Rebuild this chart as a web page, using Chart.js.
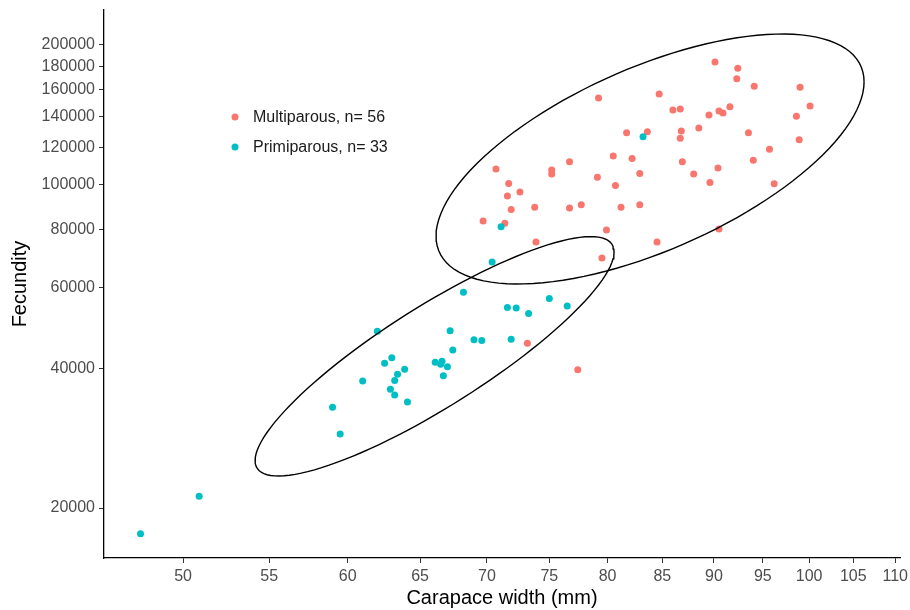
<!DOCTYPE html>
<html lang="en">
<head>
    <meta charset="UTF-8">
    <title>Fecundity vs carapace width</title>
    <script src="https://cdn.jsdelivr.net/npm/chart.js"></script>
    <style>
        body { margin: 0; background: #fff; }
        canvas { display: block; }
    </style>
</head>
<body>
    <canvas id="fecundity-chart" width="910" height="610"></canvas>

    <script>
        // Multiparous females
        const multiWidth = [90.1, 92.4, 92.3, 94.1, 99.0, 84.7, 86.0, 86.7, 89.5, 90.5, 90.9, 91.6, 100.1, 98.6,
            86.8, 86.7, 88.5, 93.5, 98.9, 95.7, 86.9, 90.4, 88.0, 94.0, 89.6, 96.2, 79.2, 81.7, 83.6, 80.5,
            82.2, 82.9, 79.1, 80.7, 76.7, 75.2, 75.2, 70.7, 71.7, 72.6, 71.6, 71.9, 73.8, 76.7, 77.7, 81.2,
            82.9, 69.7, 71.4, 79.9, 73.9, 84.5, 79.5, 73.2, 77.4, 90.5];
        const multiFecundity = [183800, 178100, 169100, 162900, 162100, 156800, 144800, 145500, 141200, 144000,
            142600, 147200, 147700, 140300, 130400, 125800, 132400, 129300, 124900, 119100, 111900, 108500,
            105300, 112700, 101000, 100300, 153700, 129300, 129900, 115200, 113800, 105500, 103600, 99500,
            111900, 107400, 105300, 107900, 100500, 96300, 94400, 88300, 89200, 88900, 90400, 89200, 90400,
            83400, 82400, 79700, 75100, 75100, 69300, 45400, 39800, 80100];

        // Primiparous females
        const primiWidth = [83.2, 71.1, 70.4, 68.2, 75.0, 76.5, 71.6, 72.3, 73.3, 67.2, 69.0, 69.6, 71.9, 67.4,
            66.1, 66.5, 66.6, 67.0, 66.7, 62.0, 63.0, 62.5, 63.9, 63.4, 63.2, 61.0, 62.9, 63.2, 64.1, 59.0,
            59.5, 50.9, 47.7];
        const primiFecundity = [126800, 81000, 68000, 58500, 56700, 54600, 54200, 54100, 52600, 48300, 46200,
            46000, 46300, 43900, 41300, 40900, 41500, 40400, 38600, 48200, 42200, 41100, 39900, 38900, 37700,
            37600, 36100, 35100, 33900, 33000, 28900, 21200, 17600];

        const xTicks = [50, 55, 60, 65, 70, 75, 80, 85, 90, 95, 100, 105, 110];
        const yTicks = [20000, 40000, 60000, 80000, 100000, 120000, 140000, 160000, 180000, 200000];

        // 95% ellipses, log10 units: centre and two conjugate semi-axes
        const multiEllipseCenter = [1.9235, 5.0548];
        const multiEllipseAxis1 = [0.1029, 0.1665];
        const multiEllipseAxis2 = [0, -0.2125];
        const primiEllipseCenter = [1.8199, 4.6287];
        const primiEllipseAxis1 = [0.0863, 0.2251];
        const primiEllipseAxis2 = [0, 0.1272];

        const labels = ['Multiparous, n= ' + multiWidth.length, 'Primiparous, n= ' + primiWidth.length];
        const colors = ['#F8766D', '#00BFC4'];
        const FONT = '"Liberation Sans", Arial, sans-serif';

        function toPoints(xs, ys) {
            return xs.map((x, i) => ({ x: x, y: ys[i] }));
        }

        function ellipse(c, a, b) {
            const pts = [];
            for (let i = 0; i <= 120; i++) {
                const t = 2 * Math.PI * i / 120;
                pts.push({
                    x: Math.pow(10, c[0] + a[0] * Math.cos(t) + b[0] * Math.sin(t)),
                    y: Math.pow(10, c[1] + a[1] * Math.cos(t) + b[1] * Math.sin(t))
                });
            }
            return pts;
        }

        // legend drawn inside the panel, like the original
        const insideLegend = {
            id: 'insideLegend',
            afterDraw(chart) {
                const ctx = chart.ctx;
                const left = chart.chartArea.left;
                ctx.save();
                ctx.font = '16px ' + FONT;
                ctx.textBaseline = 'middle';
                labels.forEach((txt, i) => {
                    const y = 117 + i * 30;
                    ctx.fillStyle = colors[i];
                    ctx.beginPath();
                    ctx.arc(left + 131, y, 3.5, 0, 2 * Math.PI);
                    ctx.fill();
                    ctx.fillStyle = '#1a1a1a';
                    ctx.fillText(txt, left + 149, y + 1);
                });
                ctx.restore();
            }
        };

        const axisCommon = {
            type: 'logarithmic',
            border: { display: true, color: '#000', width: 1.3 },
            grid: { drawOnChartArea: false, drawTicks: true, tickLength: 5, color: '#333', lineWidth: 1 }
        };

        // keep the panel where the original has it: no extra room for edge labels
        function noEdgePadding(s) {
            s.paddingLeft = 0;
            s.paddingRight = 0;
            s.paddingTop = 0;
            s.paddingBottom = 0;
        }

        new Chart(document.getElementById('fecundity-chart').getContext('2d'), {
            type: 'scatter',
            data: {
                datasets: [
                    {
                        label: labels[0],
                        data: toPoints(multiWidth, multiFecundity),
                        pointRadius: 3.5,
                        pointBorderWidth: 0,
                        pointBackgroundColor: colors[0],
                        order: 2
                    },
                    {
                        label: labels[1],
                        data: toPoints(primiWidth, primiFecundity),
                        pointRadius: 3.5,
                        pointBorderWidth: 0,
                        pointBackgroundColor: colors[1],
                        order: 1
                    },
                    {
                        label: 'ellipse multi',
                        data: ellipse(multiEllipseCenter, multiEllipseAxis1, multiEllipseAxis2),
                        showLine: true,
                        pointRadius: 0,
                        borderColor: '#000',
                        borderWidth: 1.4,
                        tension: 0,
                        order: 0
                    },
                    {
                        label: 'ellipse primi',
                        data: ellipse(primiEllipseCenter, primiEllipseAxis1, primiEllipseAxis2),
                        showLine: true,
                        pointRadius: 0,
                        borderColor: '#000',
                        borderWidth: 1.4,
                        tension: 0,
                        order: 0
                    }
                ]
            },
            options: {
                responsive: false,
                animation: false,
                layout: { padding: { left: 0, top: 10, right: 10, bottom: 0 } },
                plugins: {
                    legend: { display: false },
                    tooltip: { enabled: false }
                },
                scales: {
                    x: {
                        ...axisCommon,
                        min: 45.81,
                        max: 110.58,
                        afterBuildTicks: (s) => { s.ticks = xTicks.map(v => ({ value: v })); },
                        afterFit: (s) => { s.height = 52; noEdgePadding(s); },
                        ticks: {
                            autoSkip: false,
                            maxRotation: 0,
                            padding: 4,
                            color: '#4D4D4D',
                            font: { family: FONT, size: 16 },
                            callback: (v) => String(v)
                        },
                        title: {
                            display: true,
                            text: 'Carapace width (mm)',
                            color: '#000',
                            font: { family: FONT, size: 20 },
                            padding: { top: 0, bottom: 0 }
                        }
                    },
                    y: {
                        ...axisCommon,
                        min: 15598,
                        max: 238020,
                        afterBuildTicks: (s) => { s.ticks = yTicks.map(v => ({ value: v })); },
                        afterFit: (s) => { s.width = 104; noEdgePadding(s); },
                        ticks: {
                            autoSkip: false,
                            padding: 4,
                            color: '#4D4D4D',
                            font: { family: FONT, size: 16 },
                            callback: (v) => String(v)
                        },
                        title: {
                            display: true,
                            text: 'Fecundity',
                            color: '#000',
                            font: { family: FONT, size: 20 },
                            padding: { top: 8, bottom: 0 }
                        }
                    }
                }
            },
            plugins: [insideLegend]
        });
    </script>
</body>
</html>
